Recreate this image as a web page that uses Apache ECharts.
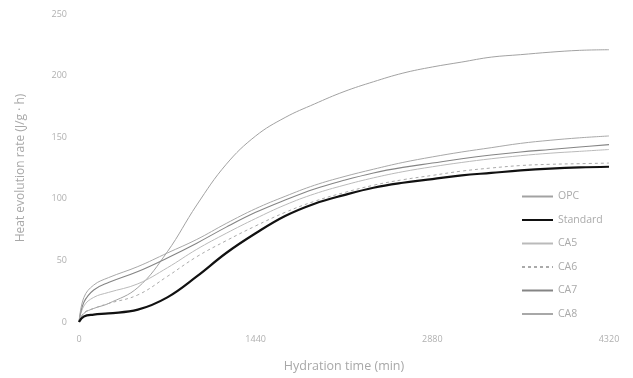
<!DOCTYPE html>
<html>
<head>
<meta charset="utf-8">
<script src="https://cdn.jsdelivr.net/npm/echarts@6/dist/echarts.min.js"></script>
<style>
html,body{margin:0;padding:0;background:#fff;}
#c{width:633px;height:378px;}
</style>
</head>
<body>
<div id="c"></div>
<script>
const times    = [0, 40, 120, 240, 480, 720, 960, 1200, 1440, 1680, 1920, 2160, 2400, 2640, 2880, 3120, 3360, 3600, 3840, 4080, 4320];
const opc      = [0, 7, 11, 15, 28, 57, 95, 128, 151, 166, 177, 187, 195, 202, 207, 211, 215, 217, 219, 220.5, 221];
const standard = [0, 4.5, 6, 7, 10, 20, 37, 56, 72, 86, 96, 103, 109, 113, 116, 119, 121, 123, 124.5, 125.5, 126];
const ca5      = [0, 13, 20, 24, 31, 44, 59, 72, 84, 95, 104, 111, 117, 122, 126, 129.5, 132.5, 135, 137, 138.5, 140];
const ca6      = [0, 7.5, 11, 15, 22, 37, 53, 66, 78, 89, 98, 105, 111, 115.5, 119, 122.5, 125, 127, 128, 128.5, 129];
const ca7      = [0, 16, 26, 32, 41, 52, 64, 77, 89, 99, 108, 115, 121, 125.5, 129, 132.5, 135.5, 138, 140, 142, 144];
const ca8      = [0, 20, 30, 36, 45, 56, 67, 80, 92, 102, 111, 118, 124, 129.5, 134, 138, 141.5, 145, 147.5, 149.5, 151];
const xTicks = [0, 1440, 2880, 4320];
const yTicks = [0, 50, 100, 150, 200, 250];
const seriesNames = ['OPC', 'Standard', 'CA5', 'CA6', 'CA7', 'CA8'];
const seriesData = [opc, standard, ca5, ca6, ca7, ca8];

const styles = [
  {color: '#a2a2a2', width: 1, type: 'solid'},
  {color: '#111111', width: 2.2, type: 'solid'},
  {color: '#bababa', width: 1, type: 'solid'},
  {color: '#aaaaaa', width: 1, type: [3, 3]},
  {color: '#858585', width: 1.1, type: 'solid'},
  {color: '#a8a8a8', width: 1, type: 'solid'}
];

const chart = echarts.init(document.getElementById('c'), null, {renderer: 'canvas'});
const font = '"Open Sans", "Noto Sans", sans-serif';
chart.setOption({
  animation: false,
  backgroundColor: '#ffffff',
  textStyle: {fontFamily: font},
  grid: {left: 79, right: 24, top: 14, bottom: 56, containLabel: false},
  legend: {
    orient: 'vertical',
    left: 516,
    top: 186,
    itemWidth: 31,
    itemHeight: 10,
    itemGap: 12.5,
    itemStyle: {opacity: 0},
    textStyle: {color: '#aaaaaa', fontSize: 10.5, fontFamily: font},
    data: seriesNames
  },
  xAxis: {
    type: 'value',
    min: xTicks[0],
    max: xTicks[xTicks.length - 1],
    interval: 1440,
    axisLine: {show: false},
    axisTick: {show: false},
    splitLine: {show: false},
    axisLabel: {color: '#b0b0b0', fontSize: 9, margin: 13, fontFamily: font, formatter: v => String(v)},
    name: 'Hydration time (min)',
    nameLocation: 'middle',
    nameGap: 38,
    nameTextStyle: {color: '#a8a8a8', fontSize: 12.5, fontFamily: font}
  },
  yAxis: {
    type: 'value',
    min: yTicks[0],
    max: yTicks[yTicks.length - 1],
    interval: 50,
    axisLine: {show: false},
    axisTick: {show: false},
    splitLine: {show: false},
    axisLabel: {color: '#b0b0b0', fontSize: 9, margin: 12, fontFamily: font, formatter: v => String(v)},
    name: 'Heat evolution rate (J/g · h)',
    nameLocation: 'middle',
    nameGap: 52,
    nameTextStyle: {color: '#a8a8a8', fontSize: 12, fontFamily: font}
  },
  series: seriesNames.map((n, i) => ({
    name: n,
    type: 'line',
    smooth: 0.4,
    symbol: 'none',
    z: i === 1 ? 5 : 2,
    lineStyle: styles[i],
    itemStyle: {color: styles[i].color},
    data: times.map((t, k) => [t, seriesData[i][k]])
  }))
});
</script>
</body>
</html>
